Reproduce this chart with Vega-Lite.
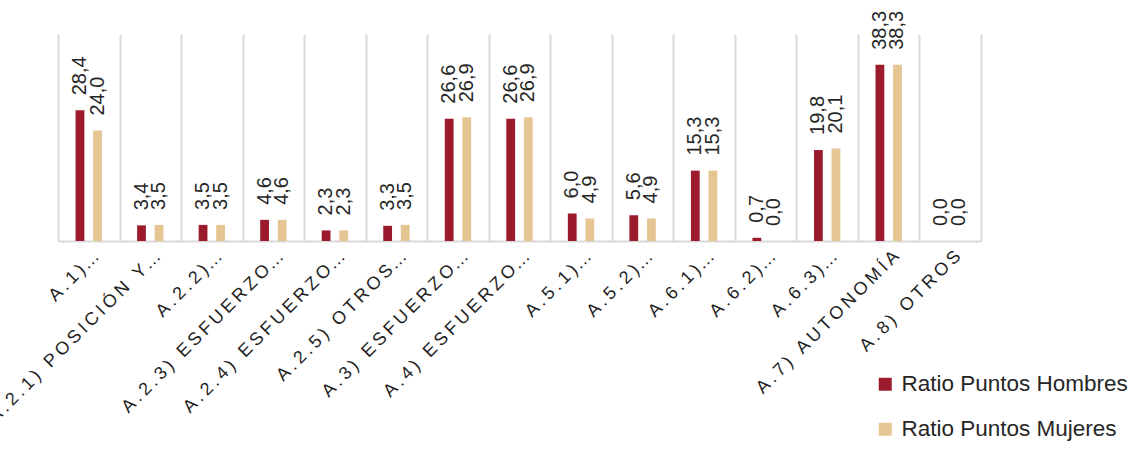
{
  "$schema": "https://vega.github.io/schema/vega-lite/v6.json",
  "autosize": {"type": "none"},
  "padding": {"left": 58, "top": 34, "right": 156, "bottom": 209},
  "width": 923,
  "height": 207,
  "background": "white",
  "config": {
    "view": {"stroke": null},
    "locale": {"number": {"decimal": ",", "thousands": ".", "grouping": [3], "currency": ["", " €"]}}
  },
  "data": {
    "values": [
      {"cat": "A.1)…", "serie": "Ratio Puntos Hombres", "valor": 28.4},
      {"cat": "A.1)…", "serie": "Ratio Puntos Mujeres", "valor": 24.0},
      {"cat": "A.2.1) POSICIÓN Y…", "serie": "Ratio Puntos Hombres", "valor": 3.4},
      {"cat": "A.2.1) POSICIÓN Y…", "serie": "Ratio Puntos Mujeres", "valor": 3.5},
      {"cat": "A.2.2)…", "serie": "Ratio Puntos Hombres", "valor": 3.5},
      {"cat": "A.2.2)…", "serie": "Ratio Puntos Mujeres", "valor": 3.5},
      {"cat": "A.2.3) ESFUERZO…", "serie": "Ratio Puntos Hombres", "valor": 4.6},
      {"cat": "A.2.3) ESFUERZO…", "serie": "Ratio Puntos Mujeres", "valor": 4.6},
      {"cat": "A.2.4) ESFUERZO…", "serie": "Ratio Puntos Hombres", "valor": 2.3},
      {"cat": "A.2.4) ESFUERZO…", "serie": "Ratio Puntos Mujeres", "valor": 2.3},
      {"cat": "A.2.5) OTROS…", "serie": "Ratio Puntos Hombres", "valor": 3.3},
      {"cat": "A.2.5) OTROS…", "serie": "Ratio Puntos Mujeres", "valor": 3.5},
      {"cat": "A.3) ESFUERZO…", "serie": "Ratio Puntos Hombres", "valor": 26.6},
      {"cat": "A.3) ESFUERZO…", "serie": "Ratio Puntos Mujeres", "valor": 26.9},
      {"cat": "A.4) ESFUERZO…", "serie": "Ratio Puntos Hombres", "valor": 26.6},
      {"cat": "A.4) ESFUERZO…", "serie": "Ratio Puntos Mujeres", "valor": 26.9},
      {"cat": "A.5.1)…", "serie": "Ratio Puntos Hombres", "valor": 6.0},
      {"cat": "A.5.1)…", "serie": "Ratio Puntos Mujeres", "valor": 4.9},
      {"cat": "A.5.2)…", "serie": "Ratio Puntos Hombres", "valor": 5.6},
      {"cat": "A.5.2)…", "serie": "Ratio Puntos Mujeres", "valor": 4.9},
      {"cat": "A.6.1)…", "serie": "Ratio Puntos Hombres", "valor": 15.3},
      {"cat": "A.6.1)…", "serie": "Ratio Puntos Mujeres", "valor": 15.3},
      {"cat": "A.6.2)…", "serie": "Ratio Puntos Hombres", "valor": 0.7},
      {"cat": "A.6.2)…", "serie": "Ratio Puntos Mujeres", "valor": 0.0},
      {"cat": "A.6.3)…", "serie": "Ratio Puntos Hombres", "valor": 19.8},
      {"cat": "A.6.3)…", "serie": "Ratio Puntos Mujeres", "valor": 20.1},
      {"cat": "A.7) AUTONOMÍA", "serie": "Ratio Puntos Hombres", "valor": 38.3},
      {"cat": "A.7) AUTONOMÍA", "serie": "Ratio Puntos Mujeres", "valor": 38.3},
      {"cat": "A.8) OTROS", "serie": "Ratio Puntos Hombres", "valor": 0.0},
      {"cat": "A.8) OTROS", "serie": "Ratio Puntos Mujeres", "valor": 0.0}
    ]
  },
  "encoding": {
    "x": {
      "field": "cat",
      "type": "nominal",
      "sort": null,
      "scale": {"paddingInner": 0, "paddingOuter": 0},
      "axis": {
        "title": null,
        "tickBand": "extent",
        "ticks": false,
        "grid": true,
        "gridColor": "#d9d9d9",
        "gridWidth": 2,
        "domainColor": "#d9d9d9",
        "domainWidth": 2,
        "labelAngle": -45,
        "labelAlign": "right",
        "labelBaseline": "top",
        "labelFont": "Liberation Sans",
        "labelFontSize": 18,
        "labelColor": "#1f1f1f",
        "labelPadding": 6,
        "labelOffset": 1,
        "labelOverlap": false,
        "labelLimit": 400,
        "labelExpr": "join(split(replace(datum.label, '…', ''), ''), '\u2009') + (indexof(datum.label, '…') >= 0 ? '\u200a…' : '')"
      }
    },
    "xOffset": {
      "field": "serie",
      "type": "nominal",
      "sort": ["Ratio Puntos Hombres", "Ratio Puntos Mujeres"],
      "scale": {"paddingInner": 0.5, "paddingOuter": 1.17}
    },
    "y": {
      "field": "valor",
      "type": "quantitative",
      "scale": {"domain": [0, 45], "nice": false},
      "axis": null
    }
  },
  "layer": [
    {
      "mark": {"type": "bar"},
      "encoding": {
        "color": {
          "field": "serie",
          "type": "nominal",
          "sort": ["Ratio Puntos Hombres", "Ratio Puntos Mujeres"],
          "scale": {"domain": ["Ratio Puntos Hombres", "Ratio Puntos Mujeres"], "range": ["#9b1b2d", "#e5c592"]},
          "legend": {
            "title": null,
            "orient": "none",
            "legendX": 816,
            "legendY": 339,
            "symbolType": "square",
            "symbolSize": 169,
            "symbolStrokeWidth": 0,
            "labelFont": "Liberation Sans",
            "labelFontSize": 22.5,
            "labelColor": "#262626",
            "labelOffset": 5,
            "labelLimit": 400,
            "rowPadding": 22
          }
        }
      }
    },
    {
      "mark": {"type": "text", "angle": 270, "align": "left", "baseline": "middle", "dx": 15, "font": "Liberation Sans", "fontSize": 20, "color": "#262626"},
      "encoding": {
        "text": {"field": "valor", "type": "quantitative", "format": ".1f"}
      }
    }
  ]
}
